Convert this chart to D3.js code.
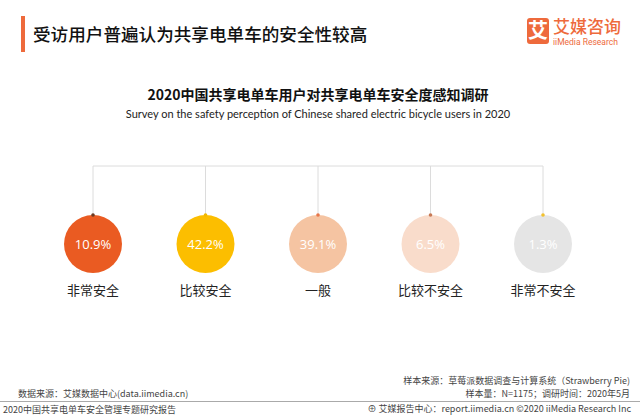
<!DOCTYPE html>
<html>
<head>
<meta charset="utf-8">
<script src="https://cdn.jsdelivr.net/npm/d3@7/dist/d3.min.js"></script>
<style>
  html, body { margin: 0; padding: 0; background: #fff; }
  svg { display: block; }
</style>
</head>
<body>
<svg id="chart" width="640" height="416"></svg>
<script>
const categories = ["非常安全", "比较安全", "一般", "比较不安全", "非常不安全"];
const values = [10.9, 42.2, 39.1, 6.5, 1.3];
const circleColors = ["#EA5B22", "#FCBE00", "#F5C4A2", "#F9DCCB", "#E5E5E5"];
const dotColors = ["#6b3a22", "#F2B800", "#E8774A", "#C87A55", "#F2C12E"];

const mainTitle = "受访用户普遍认为共享电单车的安全性较高";
const chartTitle = "2020中国共享电单车用户对共享电单车安全度感知调研";
const chartSubtitle = "Survey on the safety perception of Chinese shared electric bicycle users in 2020";

const CJK = "'Noto Sans CJK SC', 'Noto Sans', sans-serif";
const svg = d3.select("#chart");

// Header
svg.append("rect").attr("x", 21).attr("y", 16).attr("width", 4).attr("height", 36).attr("fill", "#EE6A3C");
svg.append("text").attr("x", 33).attr("y", 41).attr("font-family", CJK).attr("font-size", 17.6)
  .attr("font-weight", 500).attr("fill", "#111").text(mainTitle);

// Logo
const logo = svg.append("g");
logo.append("rect").attr("x", 527).attr("y", 18).attr("width", 22).attr("height", 26).attr("rx", 3).attr("fill", "#EE6A3C");
logo.append("text").attr("x", 538).attr("y", 38).attr("text-anchor", "middle").attr("font-family", CJK)
  .attr("font-size", 20).attr("font-weight", 700).attr("fill", "#fff").text("艾");
logo.append("text").attr("x", 553).attr("y", 33).attr("font-family", CJK).attr("font-size", 17)
  .attr("font-weight", 500).attr("fill", "#EE6A3C").text("艾媒咨询");
logo.append("text").attr("x", 553).attr("y", 45).attr("font-family", "Roboto, sans-serif").attr("font-size", 8.5)
  .attr("fill", "#EE6A3C").text("iiMedia Research");

// Chart titles
svg.append("text").attr("x", 318).attr("y", 100).attr("text-anchor", "middle").attr("font-family", CJK)
  .attr("font-size", 14).attr("font-weight", 700).attr("fill", "#111").text(chartTitle);
svg.append("text").attr("x", 318).attr("y", 118).attr("text-anchor", "middle").attr("font-family", "Lato, sans-serif")
  .attr("font-size", 11).attr("fill", "#222").text(chartSubtitle);

// Scales
const x = d3.scalePoint().domain(categories).range([93, 543]);
const r = 29;
const cy = 244;
const lineY = 166;

// Connector lines
svg.append("line").attr("x1", x(categories[0])).attr("x2", x(categories[categories.length - 1]))
  .attr("y1", lineY).attr("y2", lineY).attr("stroke", "#dcdcdc").attr("stroke-width", 1);

const g = svg.selectAll("g.item").data(categories).join("g").attr("class", "item");
g.append("line").attr("x1", d => x(d)).attr("x2", d => x(d)).attr("y1", lineY).attr("y2", cy - r)
  .attr("stroke", "#dcdcdc").attr("stroke-width", 1);
g.append("circle").attr("cx", d => x(d)).attr("cy", cy).attr("r", r).attr("fill", (d, i) => circleColors[i]);
g.append("circle").attr("cx", d => x(d)).attr("cy", cy - r).attr("r", 1.8).attr("fill", (d, i) => dotColors[i]);
g.append("text").attr("x", d => x(d)).attr("y", cy + 5).attr("text-anchor", "middle")
  .attr("font-family", "'Open Sans', sans-serif").attr("font-size", 13).attr("fill", "#fff")
  .text((d, i) => values[i].toFixed(1) + "%");
g.append("text").attr("x", d => x(d)).attr("y", 295).attr("text-anchor", "middle")
  .attr("font-family", CJK).attr("font-size", 13).attr("fill", "#222").text(d => d);

// Footer
const foot = { "font-family": CJK, "font-size": 9, "fill": "#444" };
function ft(xp, yp, anchor, txt) {
  const t = svg.append("text").attr("x", xp).attr("y", yp).attr("text-anchor", anchor).text(txt);
  Object.entries(foot).forEach(([k, v]) => t.attr(k, v));
  return t;
}
ft(630, 384, "end", "样本来源：草莓派数据调查与计算系统（Strawberry Pie)");
ft(630, 397, "end", "样本量：N=1175；调研时间：2020年5月");
ft(18, 397, "start", "数据来源：艾媒数据中心(data.iimedia.cn)");
svg.append("line").attr("x1", 0).attr("x2", 640).attr("y1", 401.5).attr("y2", 401.5).attr("stroke", "#aaa").attr("stroke-width", 1);
ft(3, 413, "start", "2020中国共享电单车安全管理专题研究报告");
ft(631, 412, "end", "⊕ 艾媒报告中心：report.iimedia.cn  ©2020  iiMedia Research  Inc");
</script>
</body>
</html>
